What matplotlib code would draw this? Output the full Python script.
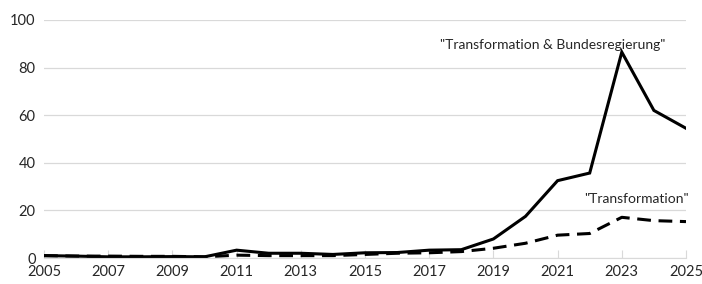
import matplotlib.pyplot as plt

years = list(range(2005, 2026))
# "Transformation & Bundesregierung"
trans_bund = [1.0, 0.8, 0.5, 0.5, 0.6, 0.5, 3.3, 2.0, 2.0, 1.5, 2.2,
              2.3, 3.3, 3.5, 8.0, 17.5, 32.5, 35.7, 86.5, 62.0, 54.5]
# "Transformation"
trans = [1.0, 0.8, 0.8, 0.7, 0.7, 0.5, 1.2, 1.0, 1.0, 1.0, 1.5,
         2.0, 2.2, 2.7, 4.1, 6.2, 9.6, 10.3, 17.1, 15.7, 15.3]

xticks = list(range(2005, 2026, 2))
yticks = [0, 20, 40, 60, 80, 100]

plt.rcParams['font.family'] = ['Lato', 'DejaVu Sans']

fig = plt.figure(figsize=(7.02, 2.84), dpi=100)
ax = fig.add_axes([0.0627, 0.0915, 0.9145, 0.8381])

ax.plot(years, trans_bund, color='black', lw=2.2, solid_joinstyle='miter')
ax.plot(years, trans, color='black', lw=2.2, dashes=(4.5, 2.5))

ax.text(2020.85, 89.5, '"Transformation & Bundesregierung"', ha='center', va='center',
        fontsize=10, color='#262626')
ax.text(2023.45, 24.8, '"Transformation"', ha='center', va='center',
        fontsize=10, color='#262626')

ax.set_xlim(2005, 2025)
ax.set_ylim(0, 100)
ax.set_xticks(xticks)
ax.set_yticks(yticks)
ax.grid(axis='y', color='#d9d9d9', lw=0.9)
ax.set_axisbelow(True)

for side in ['top', 'right', 'left']:
    ax.spines[side].set_visible(False)
ax.spines['bottom'].set_color('#d9d9d9')

ax.tick_params(axis='x', direction='in', length=6, color='#d9d9d9', labelsize=10.5,
               labelcolor='#262626', pad=5)
ax.tick_params(axis='y', length=0, labelsize=10.5, labelcolor='#262626', pad=6)

fig.savefig('out.png', dpi=100)
